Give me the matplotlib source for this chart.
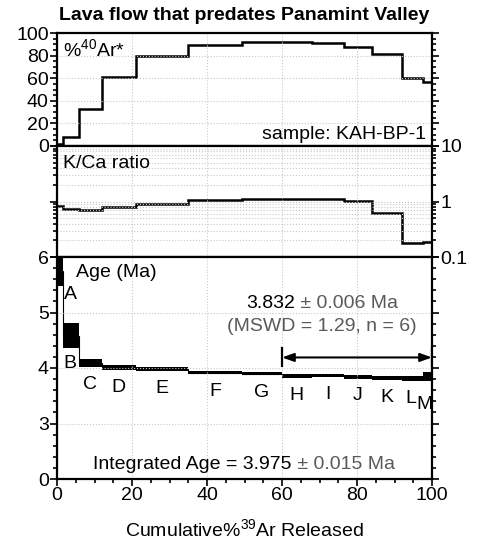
import numpy as np
import matplotlib
matplotlib.use('Agg')
import matplotlib.pyplot as plt
from matplotlib.ticker import MultipleLocator, FixedLocator, FixedFormatter, LogLocator, NullFormatter

plt.rcParams['font.family'] = ['Liberation Sans', 'DejaVu Sans']
plt.rcParams['mathtext.fontset'] = 'custom'
plt.rcParams['mathtext.rm'] = 'Liberation Sans'

# step boundaries, cumulative % 39Ar released
edges = [0, 1.7, 5.9, 11.9, 21.1, 34.8, 49.4, 59.9, 67.9, 76.4, 83.9, 91.9, 97.6, 100]
steps = ['A', 'B', 'C', 'D', 'E', 'F', 'G', 'H', 'I', 'J', 'K', 'L', 'M']
ar40_rad = [2, 8, 33, 61, 79.5, 89, 92, 92, 91, 88, 81, 60, 57]
k_ca = [0.82, 0.74, 0.71, 0.78, 0.91, 1.07, 1.12, 1.12, 1.12, 1.04, 0.61, 0.18, 0.19]
age = [5.75, 4.585, 4.09, 4.01, 3.975, 3.915, 3.895, 3.855, 3.87, 3.845, 3.825, 3.805, 3.84]
age_err = [0.28, 0.225, 0.07, 0.04, 0.035, 0.025, 0.025, 0.035, 0.03, 0.035, 0.035, 0.045, 0.08]

plateau = (60, 100)
plateau_age = '3.832'
plateau_err = '0.006'
mswd = 1.29
n_plateau = 6
integrated_age = '3.975'
integrated_err = '0.015'
sample = 'KAH-BP-1'

grey = '#5a5a5a'
fs = 14

fig = plt.figure(figsize=(4.79, 5.43), dpi=100)
L, W = 57 / 479, 375 / 479
ax1 = fig.add_axes([L, 1 - 146 / 543, W, 113 / 543])
ax2 = fig.add_axes([L, 1 - 257 / 543, W, 111 / 543])
ax3 = fig.add_axes([L, 1 - 479 / 543, W, 222 / 543])


def style(ax):
    for s in ax.spines.values():
        s.set_linewidth(1.6)
    ax.set_xlim(0, 100)
    ax.xaxis.set_major_locator(MultipleLocator(20))
    ax.xaxis.set_minor_locator(MultipleLocator(5))
    ax.tick_params(which='both', direction='out', width=1.2, labelsize=fs, pad=1)
    ax.tick_params(which='major', length=5)
    ax.tick_params(which='minor', length=3)
    ax.tick_params(axis='y', which='both', left=True, right=True)
    ax.grid(True, which='major', color='#c8c8c8', ls=':', lw=0.8)


# %40Ar* panel
style(ax1)
ax1.stairs(ar40_rad, edges, baseline=None, color='k', lw=1.8)
ax1.set_ylim(0, 100)
ax1.yaxis.set_major_locator(MultipleLocator(20))
ax1.yaxis.set_minor_locator(MultipleLocator(5))
ax1.tick_params(axis='x', which='both', bottom=False, labelbottom=False)
ax1.text(0.015, 0.955, '%$^{\\mathregular{40}}$Ar*', transform=ax1.transAxes,
         fontsize=fs, va='top', ha='left')
ax1.text(0.985, 0.06, 'sample: ' + sample, transform=ax1.transAxes,
         fontsize=fs, va='baseline', ha='right')
ax1.set_title('Lava flow that predates Panamint Valley', fontsize=14,
              fontweight='bold', pad=9)

# K/Ca panel
style(ax2)
ax2.stairs(k_ca, edges, baseline=None, color='k', lw=1.8)
ax2.set_yscale('log')
ax2.set_ylim(0.1, 10)
ax2.yaxis.set_major_locator(FixedLocator([0.1, 1, 10]))
ax2.yaxis.set_major_formatter(FixedFormatter(['0.1', '1', '10']))
ax2.yaxis.set_minor_locator(LogLocator(base=10, subs=np.arange(2, 10)))
ax2.yaxis.set_minor_formatter(NullFormatter())
ax2.tick_params(axis='y', which='both', labelleft=False, labelright=True)
ax2.tick_params(axis='x', which='both', bottom=False, labelbottom=False)
ax2.grid(True, which='minor', axis='y', color='#c8c8c8', ls=':', lw=0.8)
ax2.text(0.015, 0.92, 'K/Ca ratio', transform=ax2.transAxes,
         fontsize=fs, va='top', ha='left')

# age panel (broken axis: bottom tick is labelled 0)
style(ax3)
age = np.array(age)
age_err = np.array(age_err)
ax3.stairs(age + age_err, edges, baseline=age - age_err, fill=True, color='k', lw=0)
ax3.stairs(age, edges, baseline=None, color='k', lw=0.8)
ax3.set_ylim(2, 6)
ax3.yaxis.set_major_locator(FixedLocator([2, 3, 4, 5, 6]))
ax3.yaxis.set_major_formatter(FixedFormatter(['0', '3', '4', '5', '6']))
ax3.yaxis.set_minor_locator(MultipleLocator(0.2))
ax3.text(0.052, 0.97, 'Age (Ma)', transform=ax3.transAxes,
         fontsize=fs, va='top', ha='left')

mids = (np.array(edges[:-1]) + np.array(edges[1:])) / 2
lows = age - age_err
for i, lab in enumerate(steps):
    x, y = mids[i], lows[i] - 0.16
    if lab == 'A':
        x, y = 3.5, lows[i] + 0.01
    elif lab == 'B':
        x, y = 3.5, lows[i] - 0.12
    elif lab == 'L':
        x = 94.3
    elif lab == 'M':
        x, y = 98.0, lows[i] - 0.26
    ax3.text(x, y, lab, fontsize=fs, ha='center', va='top')

# plateau arrow
y_arr = 4.19
ax3.annotate('', xy=(plateau[1], y_arr), xytext=(plateau[0], y_arr),
             arrowprops=dict(arrowstyle='<|-|>,head_length=0.7,head_width=0.25',
                             color='k', lw=1.5, shrinkA=0, shrinkB=0))
ax3.vlines(plateau, 4.01, 4.37, color='k', lw=1.6)

ax3.text(63.5, 5.08, plateau_age, fontsize=fs, ha='right', va='baseline')
ax3.text(63.5, 5.08, ' \u00b1 ' + plateau_err + ' Ma', fontsize=fs, ha='left',
         va='baseline', color=grey)
ax3.text(70.7, 4.66, '(MSWD = %.2f, n = %d)' % (mswd, n_plateau), fontsize=fs,
         ha='center', va='baseline', color=grey)
ax3.text(62.6, 2.18, 'Integrated Age = ' + integrated_age, fontsize=fs,
         ha='right', va='baseline')
ax3.text(62.6, 2.18, ' \u00b1 ' + integrated_err + ' Ma', fontsize=fs,
         ha='left', va='baseline', color=grey)

ax3.set_xlabel('Cumulative%$^{\\mathregular{39}}$Ar Released', fontsize=fs, labelpad=10)

fig.savefig('out.png', dpi=100)
